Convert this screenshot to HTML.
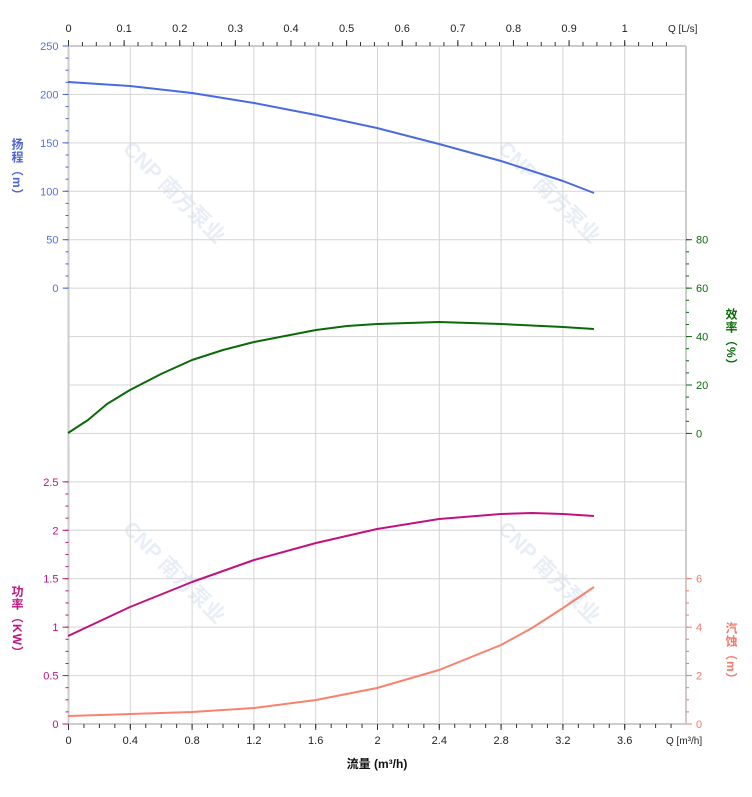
<!DOCTYPE html>
<html><head><meta charset="utf-8"><style>
body{margin:0;background:#fff;width:752px;height:797px;overflow:hidden}
svg{display:block;font-family:"Liberation Sans","Noto Sans CJK SC",sans-serif}
.vl{writing-mode:vertical-rl;position:absolute;font-family:"Liberation Sans","Noto Sans CJK SC",sans-serif;font-size:12px;font-weight:bold;letter-spacing:1px}
</style></head><body>
<svg id="s" width="752" height="797" xmlns="http://www.w3.org/2000/svg"></svg>
<div class="vl" style="left:9px;top:138px;color:#4a63d8">扬程（m）</div>
<div class="vl" style="left:9px;top:585px;color:#c0137f">功率（KW）</div>
<div class="vl" style="left:723px;top:308px;color:#0a6a0a">效率（%）</div>
<div class="vl" style="left:723px;top:622px;color:#f07a6a">汽蚀（m）</div>
<script>
const s=document.getElementById('s');let h='';
const L=68.5,R=686,T=46,B=724,dx=61.8,dy=678/14;
const ln=(x1,y1,x2,y2,c,w)=>h+=`<line x1="${x1}" y1="${y1}" x2="${x2}" y2="${y2}" stroke="${c}" stroke-width="${w||1}"/>`;
const tx=(x,y,t,c,a,sz,extra)=>h+=`<text x="${x}" y="${y}" fill="${c}" font-size="${sz||11}" text-anchor="${a||'middle'}" ${extra||''}>${t}</text>`;
[[122,150],[497,150],[122,530],[497,530]].forEach(([x,y])=>{h+=`<text x="${x}" y="${y}" fill="#e8eef7" font-size="21" font-weight="bold" transform="rotate(45 ${x} ${y})">CNP 南方泵业</text>`});
for(let k=1;k<10;k++){let x=L+dx*k;ln(x,T,x,B,'#d4d4d4');}
for(let k=0;k<=14;k++){let y=T+dy*k;ln(L,y,R,y,'#d4d4d4');}
ln(L,T,L,B,'#ccc',2);ln(R,T,R,B,'#ccc',2);ln(L,T,R,T,'#ccc',2);ln(L,B,R,B,'#ccc',2);
['0','0.4','0.8','1.2','1.6','2','2.4','2.8','3.2','3.6'].forEach((t,k)=>{let x=L+dx*k;ln(x,B,x,B+6,'#333');tx(x,744,t,'#222');});
for(let k=0;k<40;k++){let x=L+dx/4*k;ln(x,B,x,B+4,'#333');}
tx(666,744,'Q [m³/h]','#222','start',10);
const tq=dx*3.6/0.4/10;
['0','0.1','0.2','0.3','0.4','0.5','0.6','0.7','0.8','0.9','1'].forEach((t,k)=>{let x=L+tq*k;ln(x,T,x,T-6,'#333');tx(x,32,t,'#222');});
for(let k=0;k<44;k++){let x=L+tq/4*k;if(x<R)ln(x,T,x,T-4,'#333');}
tx(668,32,'Q [L/s]','#222','start',10);
for(let k=0;k<=5;k++){let y=T+dy*k;ln(L-6,y,L,y,'#4a63d8');tx(L-10,y+4,250-50*k,'#5570e0','end');}
for(let k=0;k<=20;k++){let y=T+dy/4*k;ln(L-3,y,L,y,'#4a63d8');}
for(let k=0;k<=5;k++){let y=B-dy*k;ln(L-6,y,L,y,'#c0137f');tx(L-10,y+4,['0','0.5','1','1.5','2','2.5'][k],'#c0137f','end');}
for(let k=0;k<=20;k++){let y=B-dy/4*k;ln(L-3,y,L,y,'#c0137f');}
for(let k=0;k<=4;k++){let y=B-dy*6-dy*k;ln(R,y,R+6,y,'#0a6a0a');tx(R+10,y+4,20*k,'#0a6a0a','start');}
for(let k=0;k<=16;k++){let y=B-dy*6-dy/4*k;ln(R,y,R+3,y,'#0a6a0a');}
for(let k=0;k<=3;k++){let y=B-dy*k;ln(R,y,R+6,y,'#f07a6a');tx(R+10,y+4,2*k,'#f07a6a','start');}
for(let k=0;k<=12;k++){let y=B-dy/4*k;ln(R,y,R+3,y,'#f07a6a');}
const pl=(p,c)=>h+=`<polyline fill="none" stroke="${c}" stroke-width="2" stroke-linejoin="round" points="${p}"/>`;
pl('68,82 130,86 192,93 254,103 316,115 377,128 439,144 501,161 563,181 594,193','#4a6be0');
pl('68,433 88,420 107,404 130,390 161,374 192,360 223,350 254,342 285,336 316,330 347,326 377,324 439,322 501,324 563,327 594,329','#0a6a0a');
pl('68,636 130,607 192,582 254,560 316,543 377,529 439,519 501,514 532,513 563,514 594,516','#c0137f');
pl('68,716 130,714 192,712 254,708 316,700 377,688 439,670 501,645 532,628 563,608 594,587','#f8826e');
tx(377,768,'流量 (m³/h)','#111','middle',12,'font-weight="bold"');
s.innerHTML=h;
</script>
</body></html>
